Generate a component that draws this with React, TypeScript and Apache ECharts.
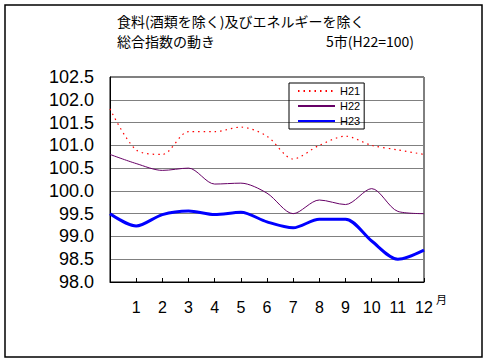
import React, { useEffect, useRef } from "react";
import * as echarts from "echarts";

const months = [0, 1, 2, 3, 4, 5, 6, 7, 8, 9, 10, 11, 12];
const h21 = [101.8, 100.9, 100.8, 101.3, 101.3, 101.4, 101.2, 100.7, 101.0, 101.2, 101.0, 100.9, 100.8];
const h22 = [100.8, 100.6, 100.45, 100.5, 100.15, 100.17, 99.95, 99.5, 99.8, 99.7, 100.05, 99.55, 99.5];
const h23 = [99.5, 99.23, 99.48, 99.56, 99.48, 99.53, 99.32, 99.19, 99.38, 99.38, 98.9, 98.5, 98.7];
const seriesNames = ["H21", "H22", "H23"];
const titleLine1 = "食料(酒類を除く)及びエネルギーを除く";
const titleLine2 = "総合指数の動き";
const titleNote = "5市(H22=100)";
const monthUnit = "月";

const JP = "'Noto Sans CJK JP', sans-serif";
const NUM = "'Liberation Sans', Arial, sans-serif";

export default function App() {
  const ref = useRef<HTMLDivElement>(null);
  useEffect(() => {
    if (!ref.current) return;
    const chart = echarts.init(ref.current, null, { renderer: "svg" });
    const pair = (arr: number[]) => months.map((m, i) => [m, arr[i]]);
    chart.setOption({
      animation: false,
      backgroundColor: "#fff",
      grid: {
        left: 110,
        top: 77,
        right: 63,
        bottom: 79,
        show: true,
        borderColor: "#000",
        borderWidth: 1,
      },
      legend: {
        orient: "vertical",
        left: 289,
        top: 83,
        width: 73,
        data: seriesNames,
        borderColor: "#000",
        borderWidth: 1,
        padding: [2, 4, 2, 8],
        itemWidth: 37,
        itemHeight: 10,
        itemGap: 3,
        itemStyle: { opacity: 0 },
        textStyle: { fontFamily: NUM, fontSize: 11, color: "#000", lineHeight: 12 },
      },
      xAxis: {
        type: "value",
        min: 0,
        max: 12,
        interval: 1,
        axisLine: { show: true, lineStyle: { color: "#000", width: 1 } },
        axisTick: { show: true, inside: true, length: 4, lineStyle: { color: "#000" } },
        splitLine: { show: false },
        axisLabel: {
          showMaxLabel: true,
          showMinLabel: true,
          margin: 17,
          fontFamily: NUM,
          fontSize: 16,
          lineHeight: 17,
          color: "#000",
          formatter: (v: number) => (v === 0 ? "" : String(v)),
        },
      },
      yAxis: {
        type: "value",
        min: 98,
        max: 102.5,
        interval: 0.5,
        axisLine: { show: true, lineStyle: { color: "#000", width: 1 } },
        axisTick: { show: false },
        splitLine: { show: true, lineStyle: { color: "#808080", width: 1 } },
        axisLabel: {
          margin: 16,
          fontFamily: NUM,
          fontSize: 18,
          lineHeight: 19,
          color: "#000",
          formatter: (v: number) => v.toFixed(1),
        },
      },
      series: [
        {
          name: seriesNames[0],
          type: "line",
          data: pair(h21),
          smooth: 0.3,
          symbol: "none",
          lineStyle: { color: "#ff0000", width: 1.2, type: [1.5, 4] },
          itemStyle: { color: "#ff0000" },
        },
        {
          name: seriesNames[1],
          type: "line",
          data: pair(h22),
          smooth: 0.3,
          symbol: "none",
          lineStyle: { color: "#660066", width: 1 },
          itemStyle: { color: "#660066" },
        },
        {
          name: seriesNames[2],
          type: "line",
          data: pair(h23),
          smooth: 0.3,
          symbol: "none",
          lineStyle: { color: "#0000ff", width: 3 },
          itemStyle: { color: "#0000ff" },
        },
      ],
      graphic: [
        {
          type: "rect",
          shape: { x: 5, y: 5, width: 477, height: 352 },
          style: { fill: "none", stroke: "#000", lineWidth: 1.5 },
          silent: true,
        },
        {
          type: "text",
          x: 117,
          y: 20.5,
          style: { text: titleLine1, font: `14px ${JP}`, fill: "#000", textVerticalAlign: "middle" },
        },
        {
          type: "text",
          x: 117,
          y: 41,
          style: { text: titleLine2, font: `14px ${JP}`, fill: "#000", textVerticalAlign: "middle" },
        },
        {
          type: "text",
          x: 326,
          y: 41,
          style: { text: titleNote, font: `14px ${JP}`, fill: "#000", textVerticalAlign: "middle" },
        },
        {
          type: "text",
          x: 436,
          y: 299,
          style: { text: monthUnit, font: `11px ${JP}`, fill: "#000", textVerticalAlign: "middle" },
        },
      ],
    });
    return () => chart.dispose();
  }, []);
  return (
    <div
      ref={ref}
      style={{ position: "fixed", left: 0, top: 0, width: 487, height: 361, background: "#fff" }}
    />
  );
}
